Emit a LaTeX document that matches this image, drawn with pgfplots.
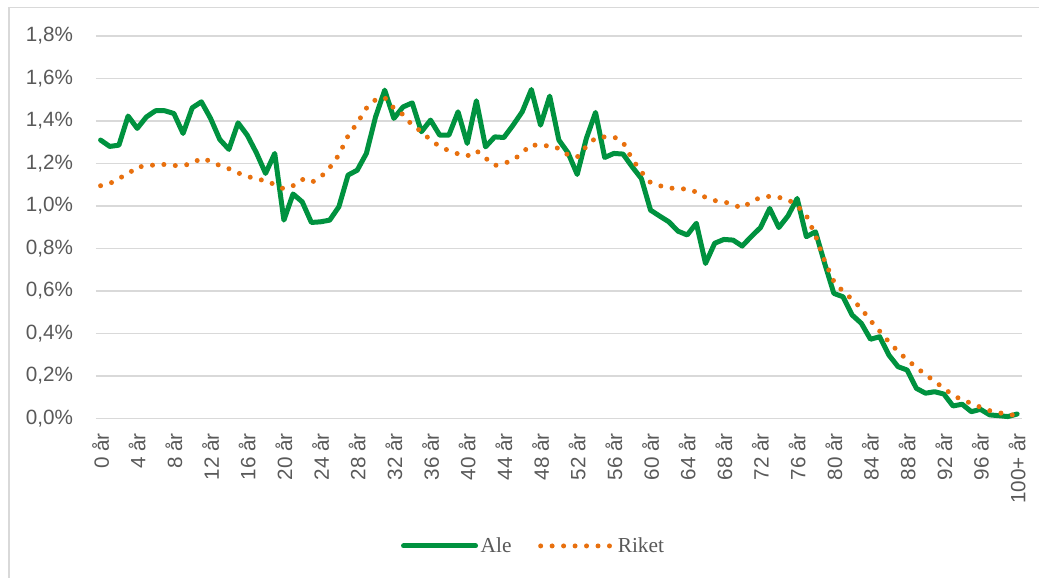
\documentclass[border=0pt]{standalone}
\usepackage{pgfplots}
\usepackage{pgfplotstable}
\pgfplotsset{compat=1.18}
\usepackage{fontspec}
\setmainfont{Liberation Sans}
\newfontfamily\legendfont{Liberation Serif}
\definecolor{aleg}{RGB}{0,146,63}
\definecolor{riko}{RGB}{232,112,14}
\definecolor{gridc}{RGB}{217,217,217}
\definecolor{txt}{RGB}{89,89,89}

\pgfplotstableread{
x ale riket
0 1.310 1.095
1 1.280 1.105
2 1.286 1.130
3 1.423 1.150
4 1.365 1.185
5 1.419 1.185
6 1.448 1.195
7 1.448 1.195
8 1.435 1.190
9 1.341 1.190
10 1.462 1.200
11 1.490 1.225
12 1.412 1.210
13 1.313 1.190
14 1.266 1.175
15 1.391 1.155
16 1.333 1.140
17 1.250 1.125
18 1.153 1.120
19 1.247 1.100
20 0.933 1.080
21 1.056 1.095
22 1.019 1.125
23 0.922 1.110
24 0.925 1.135
25 0.933 1.180
26 0.996 1.240
27 1.145 1.330
28 1.168 1.390
29 1.247 1.460
30 1.419 1.500
31 1.545 1.510
32 1.412 1.460
33 1.466 1.430
34 1.485 1.380
35 1.349 1.350
36 1.404 1.310
37 1.333 1.280
38 1.333 1.260
39 1.443 1.245
40 1.294 1.235
41 1.495 1.260
42 1.278 1.225
43 1.325 1.190
44 1.322 1.200
45 1.380 1.215
46 1.443 1.250
47 1.548 1.290
48 1.380 1.280
49 1.517 1.285
50 1.310 1.270
51 1.250 1.240
52 1.148 1.230
53 1.318 1.280
54 1.440 1.320
55 1.228 1.325
56 1.247 1.325
57 1.244 1.300
58 1.184 1.220
59 1.129 1.160
60 0.980 1.110
61 0.952 1.095
62 0.925 1.085
63 0.881 1.080
64 0.863 1.080
65 0.918 1.065
66 0.729 1.040
67 0.824 1.025
68 0.842 1.020
69 0.839 1.005
70 0.811 0.990
71 0.856 1.020
72 0.898 1.040
73 0.988 1.045
74 0.898 1.040
75 0.953 1.030
76 1.035 1.000
77 0.855 0.955
78 0.878 0.860
79 0.729 0.740
80 0.588 0.645
81 0.572 0.597
82 0.486 0.560
83 0.447 0.516
84 0.372 0.460
85 0.384 0.410
86 0.298 0.360
87 0.243 0.315
88 0.227 0.275
89 0.141 0.240
90 0.118 0.205
91 0.125 0.175
92 0.114 0.140
93 0.058 0.110
94 0.066 0.085
95 0.031 0.071
96 0.042 0.052
97 0.016 0.036
98 0.012 0.026
99 0.008 0.019
100 0.020 0.012
}\datatable

\begin{document}
\begin{tikzpicture}[x=1pt,y=1pt]
\path[use as bounding box] (0,0) rectangle (779.25,433.5);
\draw[gridc, line width=1.1pt] (6.75,0) -- (6.75,428) -- (779.25,428);
\begin{axis}[
  at={(72pt,119.8pt)}, anchor=south west,
  scale only axis, width=694.3pt, height=286.7pt,
  xmin=-0.5, xmax=100.5, ymin=0, ymax=1.8,
  clip=false,
  axis line style={draw=none},
  tick style={draw=none},
  ymajorgrids,
  major grid style={gridc, line width=1.1pt},
  /pgf/number format/assume math mode=true,
  ytick={0,0.2,0.4,0.6,0.8,1.0,1.2,1.4,1.6,1.8},
  yticklabel={\pgfmathprintnumber[assume math mode=true,fixed,fixed zerofill,precision=1,use comma]{\tick}\%},
  yticklabel style={inner sep=0pt, xshift=-17pt, text=txt, font=\fontsize{15.5}{18}\selectfont},
  xtick={0,4,8,12,16,20,24,28,32,36,40,44,48,52,56,60,64,68,72,76,80,84,88,92,96,100},
  xticklabels={0 år,4 år,8 år,12 år,16 år,20 år,24 år,28 år,32 år,36 år,40 år,44 år,48 år,52 år,56 år,60 år,64 år,68 år,72 år,76 år,80 år,84 år,88 år,92 år,96 år,100+ år},
  xticklabel style={yshift=-11pt, rotate=90, anchor=east, inner sep=0pt, text=txt, font=\fontsize{15.5}{18}\selectfont},
  legend style={at={(0.473,-0.334)}, anchor=center, draw=none, fill=none,
    legend columns=2, font=\legendfont\fontsize{16}{19}\selectfont, text=txt,
    /tikz/every even column/.append style={column sep=18pt}},
  legend image code/.code={\draw[#1] (0pt,0pt) -- (54pt,0pt);},
]
\addplot[aleg, line width=3.75pt, line join=round, line cap=round] table[x=x,y=ale] {\datatable};
\addlegendentry{Ale}
\addplot[riko, line width=3.75pt, line cap=round, dash pattern=on 0pt off 8.6pt] table[x=x,y=riket] {\datatable};
\addlegendentry{Riket}
\end{axis}
\end{tikzpicture}
\end{document}
